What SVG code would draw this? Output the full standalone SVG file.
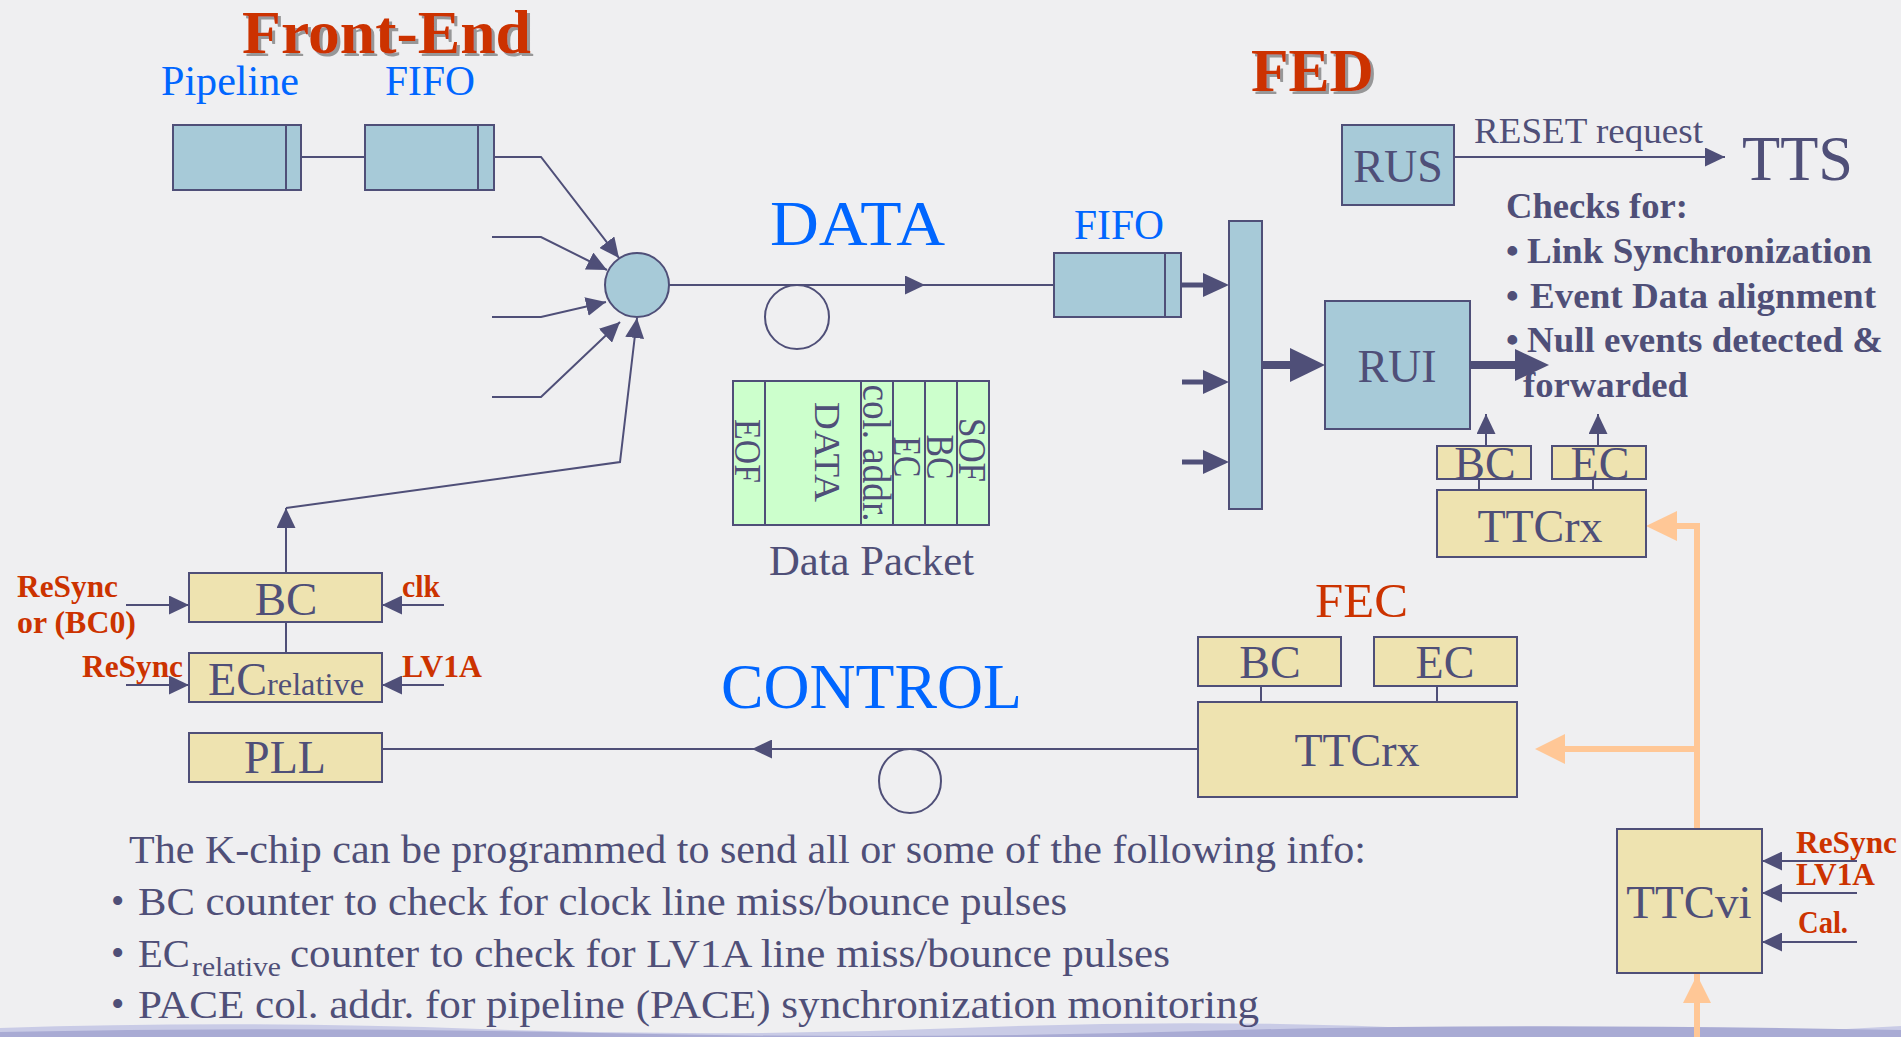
<svg xmlns="http://www.w3.org/2000/svg" width="1901" height="1037" viewBox="0 0 1901 1037">
<defs>
<style>
.t{font-family:"Liberation Serif","Times New Roman",serif;fill:#4F4F78}
.b{font-weight:bold}
.red{fill:#CC3300}
.blue{fill:#0066FF}
.c{text-anchor:middle}
.bx{fill:#A7CAD8;stroke:#4F4F78;stroke-width:2}
.tn{fill:#EEE3B0;stroke:#4F4F78;stroke-width:2}
.gr{fill:#CCFFCC;stroke:#4F4F78;stroke-width:2}
.ln{fill:none;stroke:#4F4F78;stroke-width:2}
.ar{fill:none;stroke:#4F4F78;stroke-width:2;marker-end:url(#ah)}
.hd{fill:#4F4F78}
.or{fill:none;stroke:#FFC796;stroke-width:6}
.orh{fill:#FFC796}
</style>
<filter id="ds" x="-5%" y="-10%" width="115%" height="130%">
<feDropShadow dx="3" dy="3" stdDeviation="0.6" flood-color="#8E8E8E" flood-opacity="0.9"/>
</filter>
<marker id="ah" markerUnits="userSpaceOnUse" markerWidth="20" markerHeight="19" refX="20" refY="9.5" orient="auto">
<path d="M0,0 L20,9.5 L0,19 Z" fill="#4F4F78"/>
</marker>
</defs>
<rect x="0" y="0" width="1901" height="1037" fill="#EFEFF1"/>
<path d="M0,1037 L0,1028 Q240,1020 480,1029 T960,1028 T1440,1029 T1901,1026 L1901,1037 Z" fill="#C9CBE6"/>
<path d="M0,1037 L0,1032 Q300,1026 600,1033 T1200,1031 T1901,1030 L1901,1037 Z" fill="#A9ABD4"/>

<!-- titles -->
<g id="titles">
<text class="t b red" x="242" y="53" font-size="62" textLength="289" lengthAdjust="spacingAndGlyphs" filter="url(#ds)">Front-End</text>
<text class="t b red" x="1251" y="91" font-size="62" textLength="123" lengthAdjust="spacingAndGlyphs" filter="url(#ds)">FED</text>
<text class="t blue" x="161" y="95" font-size="42" textLength="138" lengthAdjust="spacingAndGlyphs">Pipeline</text>
<text class="t blue" x="385" y="95" font-size="42" textLength="90" lengthAdjust="spacingAndGlyphs">FIFO</text>
<text class="t blue" x="770" y="245" font-size="63" textLength="175" lengthAdjust="spacingAndGlyphs">DATA</text>
<text class="t blue" x="1074" y="239" font-size="42" textLength="90" lengthAdjust="spacingAndGlyphs">FIFO</text>
<text class="t blue" x="721" y="708" font-size="63" textLength="301" lengthAdjust="spacingAndGlyphs">CONTROL</text>
<text class="t red" x="1315" y="617" font-size="49" textLength="93" lengthAdjust="spacingAndGlyphs">FEC</text>
<text class="t" x="769" y="575" font-size="42" textLength="205" lengthAdjust="spacingAndGlyphs">Data Packet</text>
</g>

<!-- connectors -->
<g id="connectors">
<line class="ln" x1="301" y1="157" x2="365" y2="157"/>
<polyline class="ar" points="494,157 541,157 619,258"/>
<polyline class="ar" points="492,237 541,237 607,270"/>
<polyline class="ar" points="492,317 541,317 606,302"/>
<polyline class="ar" points="492,397 541,397 620,322"/>
<polyline class="ar" points="286,573 286,508"/>
<polyline class="ar" points="286,508 620,462 637,318"/>
<line class="ar" x1="669" y1="285" x2="925" y2="285"/>
<line class="ln" x1="924" y1="285" x2="1054" y2="285"/>
<line class="ar" x1="1454" y1="157" x2="1725" y2="157"/>
<line class="ar" x1="1198" y1="749" x2="752" y2="749"/>
<line class="ln" x1="753" y1="749" x2="382" y2="749"/>
<line class="ar" x1="126" y1="605" x2="189" y2="605"/>
<line class="ar" x1="444" y1="605" x2="382" y2="605"/>
<line class="ar" x1="126" y1="685" x2="189" y2="685"/>
<line class="ar" x1="444" y1="685" x2="382" y2="685"/>
<line class="ln" x1="286" y1="622" x2="286" y2="653"/>
<line class="ar" x1="1486" y1="446" x2="1486" y2="414"/>
<line class="ar" x1="1598" y1="446" x2="1598" y2="414"/>
<line class="ln" x1="1479" y1="479" x2="1479" y2="490"/>
<line class="ln" x1="1593" y1="479" x2="1593" y2="490"/>
<line class="ln" x1="1261" y1="686" x2="1261" y2="702"/>
<line class="ln" x1="1437" y1="686" x2="1437" y2="702"/>
<line class="ar" x1="1857" y1="861" x2="1762" y2="861"/>
<line class="ar" x1="1857" y1="893" x2="1762" y2="893"/>
<line class="ar" x1="1857" y1="942" x2="1762" y2="942"/>
<!-- thick arrows into bar / RUI -->
<line stroke="#4F4F78" stroke-width="5" x1="1181" y1="285" x2="1205" y2="285"/>
<polygon class="hd" points="1203,273 1229,285 1203,297"/>
<line stroke="#4F4F78" stroke-width="5" x1="1182" y1="382" x2="1205" y2="382"/>
<polygon class="hd" points="1203,370 1229,382 1203,394"/>
<line stroke="#4F4F78" stroke-width="5" x1="1182" y1="462" x2="1205" y2="462"/>
<polygon class="hd" points="1203,450 1229,462 1203,474"/>
<line stroke="#4F4F78" stroke-width="8" x1="1262" y1="365" x2="1292" y2="365"/>
<polygon class="hd" points="1290,348 1325,365 1290,382"/>
<line stroke="#4F4F78" stroke-width="8" x1="1470" y1="365" x2="1517" y2="365"/>
<polygon class="hd" points="1515,349 1549,365 1515,381"/>
<!-- orange TTC distribution -->
<line class="or" x1="1697" y1="523" x2="1697" y2="1037" stroke-width="5"/>
<line class="or" x1="1675" y1="526" x2="1697" y2="526"/>
<polygon class="orh" points="1677,511 1646,526 1677,541"/>
<line class="or" x1="1563" y1="749" x2="1697" y2="749"/>
<polygon class="orh" points="1565,734 1535,749 1565,764"/>
<polygon class="orh" points="1683,1003 1697,975 1711,1003"/>
</g>

<!-- front-end nodes -->
<g id="pipeline"><rect class="bx" x="173" y="125" width="128" height="65"/><line class="ln" x1="286" y1="125" x2="286" y2="190"/></g>
<g id="fifo-fe"><rect class="bx" x="365" y="125" width="129" height="65"/><line class="ln" x1="478" y1="125" x2="478" y2="190"/></g>
<g id="merge"><circle cx="637" cy="285" r="32" class="bx"/></g>
<g id="data-link"><circle cx="797" cy="317" r="32" fill="none" stroke="#4F4F78" stroke-width="2"/></g>
<g id="control-link"><ellipse cx="910" cy="781" rx="31" ry="32" fill="none" stroke="#4F4F78" stroke-width="2"/></g>

<g id="bc-fe"><rect class="tn" x="189" y="573" width="193" height="49"/><text class="t c" x="286" y="615" font-size="47">BC</text></g>
<g id="ec-fe"><rect class="tn" x="189" y="653" width="193" height="49"/>
<text class="t" x="208" y="695" font-size="46" textLength="59" lengthAdjust="spacingAndGlyphs">EC</text>
<text class="t" x="267" y="695" font-size="32" textLength="97" lengthAdjust="spacingAndGlyphs">relative</text></g>
<g id="pll"><rect class="tn" x="189" y="733" width="193" height="49"/><text class="t c" x="285" y="773" font-size="46">PLL</text></g>

<g id="fe-labels">
<text class="t b red" x="17" y="597" font-size="31" textLength="101" lengthAdjust="spacingAndGlyphs">ReSync</text>
<text class="t b red" x="17" y="633" font-size="31" textLength="119" lengthAdjust="spacingAndGlyphs">or (BC0)</text>
<text class="t b red" x="402" y="597" font-size="31" textLength="38" lengthAdjust="spacingAndGlyphs">clk</text>
<text class="t b red" x="82" y="677" font-size="31" textLength="101" lengthAdjust="spacingAndGlyphs">ReSync</text>
<text class="t b red" x="402" y="677" font-size="31" textLength="80" lengthAdjust="spacingAndGlyphs">LV1A</text>
</g>

<!-- data packet -->
<g id="data-packet">
<rect class="gr" x="733" y="381" width="256" height="144"/>
<line class="ln" x1="765" y1="381" x2="765" y2="525"/>
<line class="ln" x1="861" y1="381" x2="861" y2="525"/>
<line class="ln" x1="893" y1="381" x2="893" y2="525"/>
<line class="ln" x1="925" y1="381" x2="925" y2="525"/>
<line class="ln" x1="957" y1="381" x2="957" y2="525"/>
<text class="t c" transform="translate(959,450) rotate(90)" font-size="40" textLength="64" lengthAdjust="spacingAndGlyphs">SOF</text>
<text class="t c" transform="translate(927,457) rotate(90)" font-size="40" textLength="45" lengthAdjust="spacingAndGlyphs">BC</text>
<text class="t c" transform="translate(894,457) rotate(90)" font-size="40" textLength="41" lengthAdjust="spacingAndGlyphs">EC</text>
<text class="t c" transform="translate(863,453) rotate(90)" font-size="40" textLength="137" lengthAdjust="spacingAndGlyphs">col. addr.</text>
<text class="t c" transform="translate(815,452) rotate(90)" font-size="35" textLength="100" lengthAdjust="spacingAndGlyphs">DATA</text>
<text class="t c" transform="translate(735,451) rotate(90)" font-size="38" textLength="64" lengthAdjust="spacingAndGlyphs">EOF</text>
</g>

<!-- FED nodes -->
<g id="fifo-fed"><rect class="bx" x="1054" y="253" width="127" height="64"/><line class="ln" x1="1165" y1="253" x2="1165" y2="317"/></g>
<g id="bar"><rect class="bx" x="1229" y="221" width="33" height="288"/></g>
<g id="rui"><rect class="bx" x="1325" y="301" width="145" height="128"/><text class="t c" x="1397" y="382" font-size="46">RUI</text></g>
<g id="rus"><rect class="bx" x="1342" y="125" width="112" height="80"/><text class="t c" x="1398" y="182" font-size="46">RUS</text></g>
<g id="tts"><text class="t" x="1742" y="180" font-size="63" textLength="111" lengthAdjust="spacingAndGlyphs">TTS</text></g>
<g id="reset-label"><text class="t" x="1474" y="143" font-size="36" textLength="229" lengthAdjust="spacingAndGlyphs">RESET request</text></g>
<g id="checks">
<text class="t b" x="1506" y="218" font-size="36" textLength="182" lengthAdjust="spacingAndGlyphs">Checks for:</text>
<text class="t b" x="1506" y="263" font-size="36">•</text>
<text class="t b" x="1527" y="263" font-size="36" textLength="345" lengthAdjust="spacingAndGlyphs">Link Synchronization</text>
<text class="t b" x="1506" y="308" font-size="36">•</text>
<text class="t b" x="1530" y="308" font-size="36" textLength="346" lengthAdjust="spacingAndGlyphs">Event Data alignment</text>
<text class="t b" x="1506" y="352" font-size="36">•</text>
<text class="t b" x="1527" y="352" font-size="36" textLength="356" lengthAdjust="spacingAndGlyphs">Null events detected &amp;</text>
<text class="t b" x="1523" y="397" font-size="36" textLength="165" lengthAdjust="spacingAndGlyphs">forwarded</text>
</g>
<g id="bc-fed"><rect class="tn" x="1437" y="446" width="94" height="33"/><text class="t c" x="1485" y="479" font-size="46">BC</text></g>
<g id="ec-fed"><rect class="tn" x="1552" y="446" width="94" height="33"/><text class="t c" x="1600" y="479" font-size="46">EC</text></g>
<g id="ttcrx-fed"><rect class="tn" x="1437" y="490" width="209" height="67"/><text class="t c" x="1540" y="542" font-size="46">TTCrx</text></g>

<!-- FEC nodes -->
<g id="bc-fec"><rect class="tn" x="1198" y="637" width="143" height="49"/><text class="t c" x="1270" y="678" font-size="46">BC</text></g>
<g id="ec-fec"><rect class="tn" x="1374" y="637" width="143" height="49"/><text class="t c" x="1445" y="678" font-size="46">EC</text></g>
<g id="ttcrx-fec"><rect class="tn" x="1198" y="702" width="319" height="95"/><text class="t c" x="1357" y="766" font-size="46">TTCrx</text></g>

<!-- TTCvi -->
<g id="ttcvi"><rect class="tn" x="1617" y="829" width="145" height="144"/><text class="t c" x="1689" y="918" font-size="47">TTCvi</text></g>
<g id="ttcvi-labels">
<text class="t b red" x="1796" y="853" font-size="31" textLength="101" lengthAdjust="spacingAndGlyphs">ReSync</text>
<text class="t b red" x="1796" y="885" font-size="31" textLength="79" lengthAdjust="spacingAndGlyphs">LV1A</text>
<text class="t b red" x="1798" y="933" font-size="31" textLength="50" lengthAdjust="spacingAndGlyphs">Cal.</text>
</g>

<!-- bottom notes -->
<g id="notes">
<text class="t" x="129" y="863" font-size="39" textLength="1237" lengthAdjust="spacingAndGlyphs">The K-chip can be programmed to send all or some of the following info:</text>
<text class="t" x="111" y="914" font-size="38">•</text>
<text class="t" x="138" y="915" font-size="39" textLength="929" lengthAdjust="spacingAndGlyphs">BC counter to check for clock line miss/bounce pulses</text>
<text class="t" x="111" y="966" font-size="38">•</text>
<text class="t" x="138" y="967" font-size="39" textLength="52" lengthAdjust="spacingAndGlyphs">EC</text>
<text class="t" x="192" y="976" font-size="28" textLength="89" lengthAdjust="spacingAndGlyphs">relative</text>
<text class="t" x="290" y="967" font-size="39" textLength="880" lengthAdjust="spacingAndGlyphs">counter to check for LV1A line miss/bounce pulses</text>
<text class="t" x="111" y="1017" font-size="38">•</text>
<text class="t" x="138" y="1018" font-size="39" textLength="1121" lengthAdjust="spacingAndGlyphs">PACE col. addr. for pipeline (PACE) synchronization monitoring</text>
</g>
</svg>
